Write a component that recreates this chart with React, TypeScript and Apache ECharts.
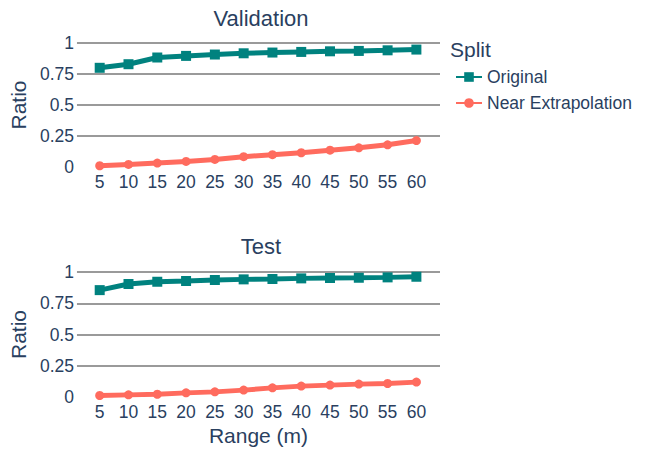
import React, { useEffect, useRef } from "react";
import * as echarts from "echarts";

const ranges = [5, 10, 15, 20, 25, 30, 35, 40, 45, 50, 55, 60];
const valOriginal = [0.8, 0.829, 0.883, 0.896, 0.907, 0.917, 0.923, 0.928, 0.933, 0.936, 0.941, 0.947];
const valNear = [0.01, 0.021, 0.032, 0.045, 0.061, 0.083, 0.099, 0.115, 0.136, 0.155, 0.179, 0.213];
const testOriginal = [0.855, 0.904, 0.922, 0.928, 0.936, 0.941, 0.944, 0.949, 0.952, 0.954, 0.957, 0.962];
const testNear = [0.012, 0.017, 0.022, 0.033, 0.041, 0.055, 0.073, 0.087, 0.095, 0.103, 0.108, 0.119];
const yTicks = [0, 0.25, 0.5, 0.75, 1];

const FONT = "Liberation Sans, Arial, sans-serif";
const TXT = "#2a3f5f";
const TEAL = "#00827f";
const CORAL = "#ff6b5e";

export default function App() {
  const ref = useRef<HTMLDivElement>(null);
  useEffect(() => {
    const chart = echarts.init(ref.current!, null, { renderer: "svg" });
    const pair = (a: number[]) => ranges.map((r, i) => [r, a[i]]);
    const xAxis = (gi: number, name: string) => ({
      type: "value",
      gridIndex: gi,
      min: 1.05,
      max: 64.1,
      name,
      nameLocation: "middle",
      nameGap: 28,
      nameTextStyle: { color: TXT, fontSize: 21, fontFamily: FONT },
      axisLine: { show: false },
      axisTick: { show: false },
      splitLine: { show: false },
      axisLabel: {
        customValues: ranges,
        color: TXT,
        fontSize: 17.5,
        fontFamily: FONT,
        margin: 6,
      },
    });
    const yAxis = (gi: number) => ({
      type: "value",
      gridIndex: gi,
      min: yTicks[0],
      max: yTicks[yTicks.length - 1],
      interval: 0.25,
      name: "Ratio",
      nameLocation: "middle",
      nameRotate: 90,
      nameGap: 41,
      nameTextStyle: { color: TXT, fontSize: 21, fontFamily: FONT },
      axisLine: { show: false },
      axisTick: { show: false },
      splitLine: { show: true, showMinLine: false, lineStyle: { color: "#9a9a9a", width: 2 } },
      axisLabel: { color: TXT, fontSize: 17.5, fontFamily: FONT, margin: 3 },
    });
    const line = (name: string, data: number[], gi: number, color: string, symbol: string, size: number) => ({
      type: "line",
      name,
      xAxisIndex: gi,
      yAxisIndex: gi,
      data: pair(data),
      symbol,
      symbolSize: size,
      showSymbol: true,
      clip: false,
      itemStyle: { color },
      lineStyle: { color, width: 5 },
      z: name === "Original" ? 3 : 2,
    });
    chart.setOption({
      animation: false,
      backgroundColor: "#ffffff",
      textStyle: { fontFamily: FONT },
      title: [
        { text: "Validation", left: 256, top: 2, textAlign: "center", textStyle: { color: TXT, fontSize: 22, fontWeight: "normal", fontFamily: FONT } },
        { text: "Test", left: 256, top: 230, textAlign: "center", textStyle: { color: TXT, fontSize: 22, fontWeight: "normal", fontFamily: FONT } },
      ],
      legend: {
        orient: "vertical",
        left: 450,
        top: 63,
        itemWidth: 26,
        itemHeight: 12,
        itemGap: 8,
        data: ["Original", "Near Extrapolation"],
        textStyle: { color: TXT, fontSize: 17.5, fontFamily: FONT },
      },
      graphic: [
        { type: "text", left: 450, top: 39, style: { text: "Split", fill: TXT, fontSize: 21, fontFamily: FONT } },
      ],
      grid: [
        { left: 73, right: 205, top: 43, height: 124 },
        { left: 73, right: 205, top: 272, height: 125 },
      ],
      xAxis: [xAxis(0, ""), xAxis(1, "Range (m)")],
      yAxis: [yAxis(0), yAxis(1)],
      series: [
        line("Original", valOriginal, 0, TEAL, "rect", 10),
        line("Near Extrapolation", valNear, 0, CORAL, "circle", 9),
        line("Original", testOriginal, 1, TEAL, "rect", 10),
        line("Near Extrapolation", testNear, 1, CORAL, "circle", 9),
      ],
    });
    return () => chart.dispose();
  }, []);
  return <div ref={ref} style={{ width: 645, height: 449, position: "absolute", left: 0, top: 0 }} />;
}
